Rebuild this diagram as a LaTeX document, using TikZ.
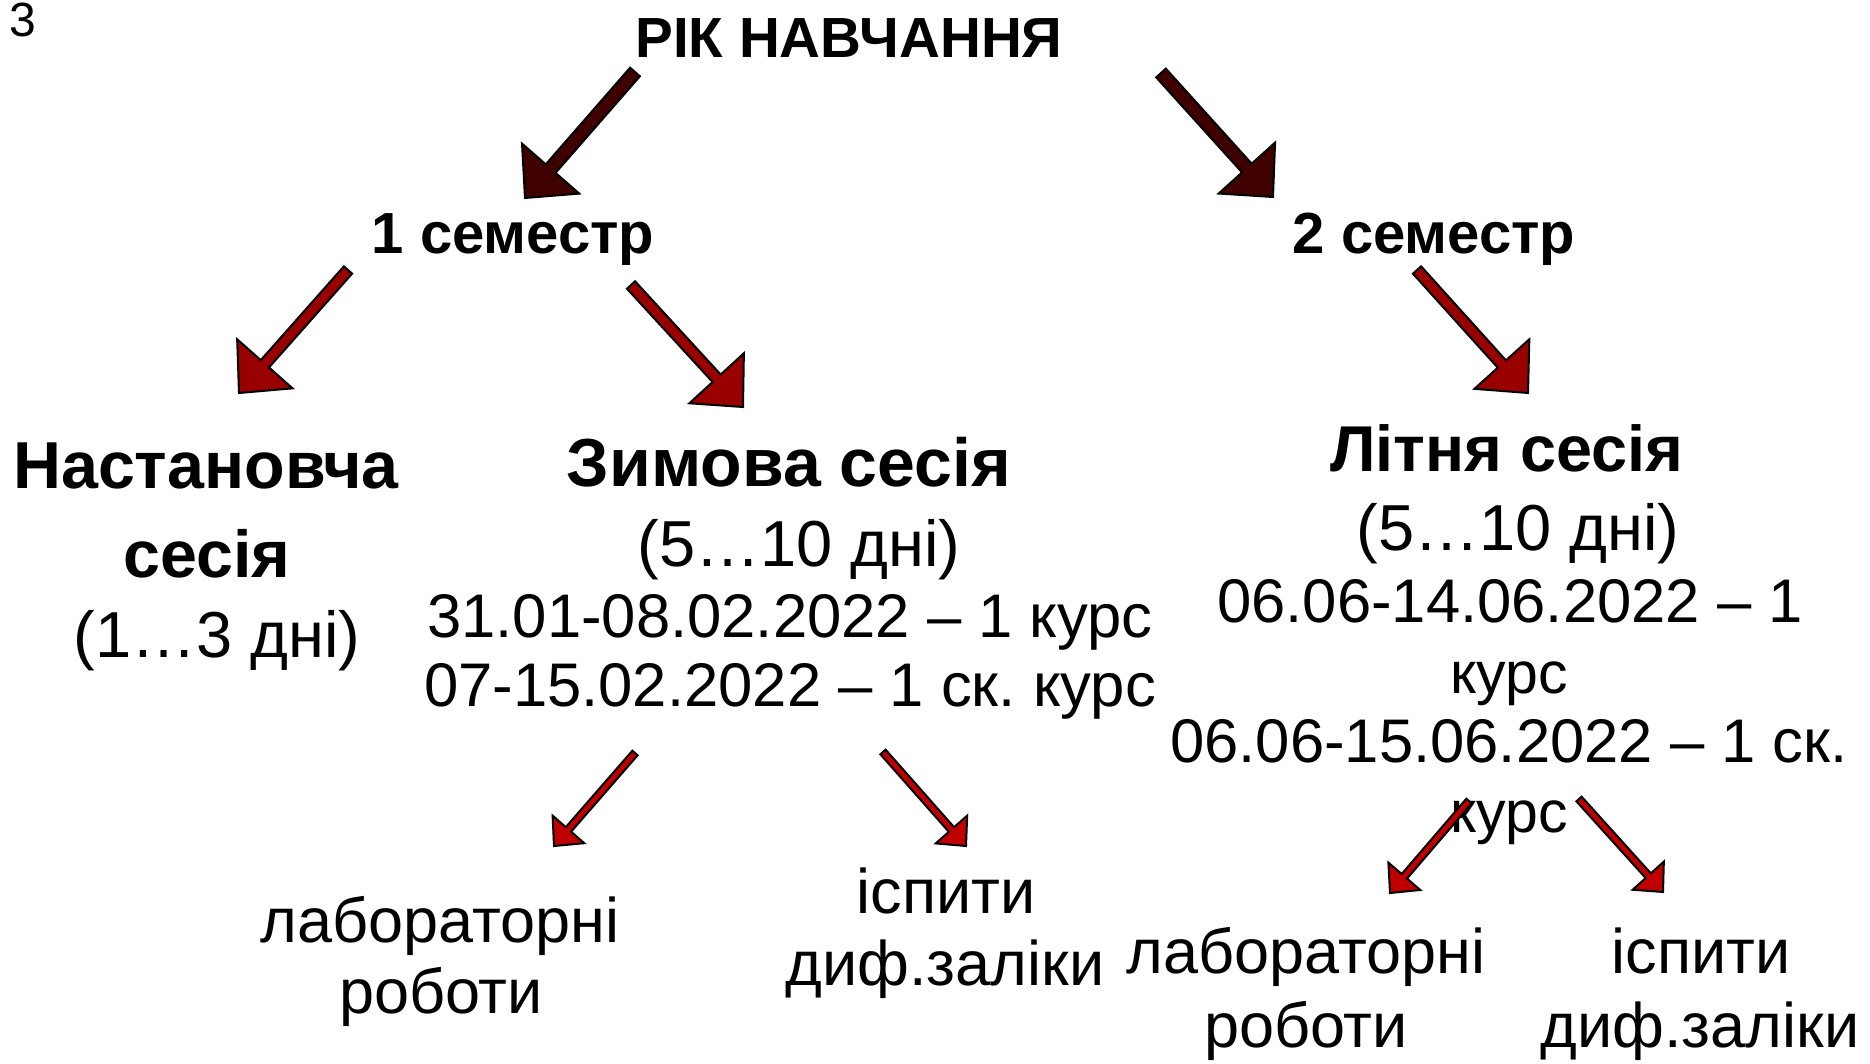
\documentclass[tikz,border=0pt]{standalone}
\usepackage{fontspec}
\setmainfont{Liberation Sans}
\usetikzlibrary{calc}
\frenchspacing
\definecolor{arrtop}{HTML}{3F0000}
\definecolor{arrmid}{HTML}{990000}
\definecolor{arrlow}{HTML}{C00000}
\tikzset{
  txt/.style={anchor=base, inner sep=0pt, font=\fontsize{31.5}{36}\selectfont},
  datetxt/.style={anchor=base, inner sep=0pt, font=\fontsize{30.8}{36}\selectfont},
  sesshead/.style={anchor=base, inner sep=0pt, font=\fontsize{34}{40}\selectfont\bfseries},
  semhead/.style={anchor=base, inner sep=0pt, font=\fontsize{29}{34}\selectfont\bfseries},
  blockarrow/.style={draw=black, line width=1pt, line join=miter}
}
% #1 tail, #2 tip, #3 shaft half-width, #4 head half-width, #5 head length, #6 colour
\newcommand\blockarr[6]{%
  \coordinate (hb) at ($(#2)!#5!(#1)$);
  \draw[blockarrow, fill=#6]
    ($(#1)!#3!90:(#2)$) -- ($(hb)!#3!90:(#2)$) -- ($(hb)!#4!90:(#2)$) -- (#2)
    -- ($(hb)!#4!-90:(#2)$) -- ($(hb)!#3!-90:(#2)$) -- ($(#1)!#3!-90:(#2)$) -- cycle;
}
\begin{document}
\begin{tikzpicture}[x=0.5pt,y=-0.5pt]
\useasboundingbox[fill=white] (0,0) rectangle (1870,1064);

\node[anchor=base west, inner sep=0pt, font=\fontsize{24}{28}\selectfont] (pg) at (9,37) {3};
\node[semhead, font=\fontsize{28.3}{32}\selectfont\bfseries] (rik) at (849,58) {РІК НАВЧАННЯ};
\node[semhead] (s1) at (513,254) {1 семестр};
\node[semhead] (s2) at (1434,254) {2 семестр};

\node[sesshead, font=\fontsize{33.2}{40}\selectfont\bfseries] (nast1) at (206,488) {Настановча};
\node[sesshead, font=\fontsize{33.2}{40}\selectfont\bfseries] (nast2) at (207,577) {сесія};
\node[txt, font=\fontsize{32.5}{36}\selectfont] (nast3) at (217,657) {(1…3 дні)};

\node[sesshead] (zym1) at (789,487) {Зимова сесія};
\node[txt, font=\fontsize{32.5}{36}\selectfont] (zym2) at (799,566) {(5…10 дні)};
\node[datetxt] (zym3) at (790,637) {31.01-08.02.2022 – 1 курс};
\node[datetxt] (zym4) at (790,706) {07-15.02.2022 – 1 ск.\ курс};

\node[sesshead, font=\fontsize{32.4}{40}\selectfont\bfseries] (lit1) at (1507,472) {Літня сесія};
\node[txt, font=\fontsize{32.5}{36}\selectfont] (lit2) at (1518,550) {(5…10 дні)};
\node[datetxt] (lit3) at (1510,622) {06.06-14.06.2022 – 1};
\node[txt, font=\fontsize{29.5}{36}\selectfont] (lit4) at (1509,693) {курс};
\node[datetxt] (lit5) at (1509,762) {06.06-15.06.2022 – 1 ск.};
\node[txt, font=\fontsize{29.5}{36}\selectfont] (lit6) at (1509,832) {курс};

\node[txt] (lab1a) at (440,942) {лабораторні};
\node[txt] (lab1b) at (441,1013) {роботи};
\node[txt] (isp1a) at (946,913) {іспити};
\node[txt] (isp1b) at (945,985) {диф.заліки};

\node[txt] (lab2a) at (1306,973) {лабораторні};
\node[txt] (lab2b) at (1306,1047) {роботи};
\node[txt] (isp2a) at (1701,973) {іспити};
\node[txt] (isp2b) at (1700,1047) {диф.заліки};

% arrow ends
\coordinate (a1t) at (635,72);   \coordinate (a1h) at (525,198);
\coordinate (a2t) at (1161,73);  \coordinate (a2h) at (1273,197);
\coordinate (a3t) at (348,270);  \coordinate (a3h) at (239,393);
\coordinate (a4t) at (631,285);  \coordinate (a4h) at (743,407);
\coordinate (a5t) at (1417,270); \coordinate (a5h) at (1528,393);
\coordinate (a6t) at (635,753);  \coordinate (a6h) at (554,846);
\coordinate (a7t) at (883,752);  \coordinate (a7h) at (966,846);
\coordinate (a8t) at (1469,801); \coordinate (a8h) at (1390,893);
\coordinate (a9t) at (1579,799); \coordinate (a9h) at (1663,892);

\blockarr{a1t}{a1h}{3.25pt}{19pt}{19.5pt}{arrtop}
\blockarr{a2t}{a2h}{3.25pt}{19pt}{19.5pt}{arrtop}
\blockarr{a3t}{a3h}{2.75pt}{18.5pt}{19.5pt}{arrmid}
\blockarr{a4t}{a4h}{2.75pt}{18.5pt}{19.5pt}{arrmid}
\blockarr{a5t}{a5h}{2.75pt}{18.5pt}{19.5pt}{arrmid}
\blockarr{a6t}{a6h}{1.75pt}{10.5pt}{11pt}{arrlow}
\blockarr{a7t}{a7h}{1.75pt}{10.5pt}{11pt}{arrlow}
\blockarr{a8t}{a8h}{1.75pt}{10.5pt}{11pt}{arrlow}
\blockarr{a9t}{a9h}{1.75pt}{10.5pt}{11pt}{arrlow}
\end{tikzpicture}
\end{document}
